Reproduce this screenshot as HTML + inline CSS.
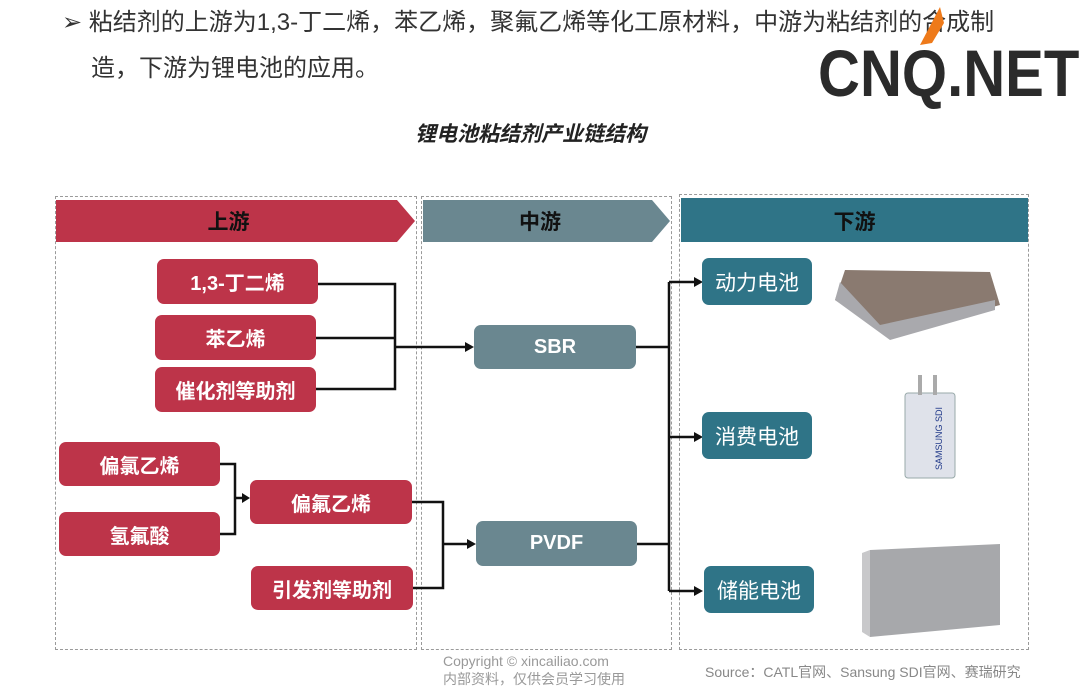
<!DOCTYPE html>
<html><head><meta charset="utf-8"><style>
*{margin:0;padding:0;box-sizing:border-box}
body{width:1080px;height:693px;background:#fff;position:relative;overflow:hidden;font-family:"Liberation Sans","Noto Sans CJK SC",sans-serif}
.a{position:absolute}
.b{position:absolute;color:#fff;font-weight:bold;font-size:20px;display:flex;align-items:center;justify-content:center;border-radius:7px}
.r{background:#bd3449}
.g{background:#6a8790}
.t{background:#2f7487;font-weight:normal;font-size:21px}
.dash{position:absolute;border:1.5px dashed #9a9a9a}
</style></head><body>
<div class="a" style="left:62px;top:0px;font-size:24px;color:#333;line-height:46px;white-space:nowrap">➢&nbsp;粘结剂的上游为1,3-丁二烯，苯乙烯，聚氟乙烯等化工原材料，中游为粘结剂的合成制<br><span style="padding-left:29px">造，下游为锂电池的应用。</span></div>
<div class="a" style="left:818px;top:42px;font-size:66px;line-height:62px;font-weight:bold;color:#2b2b2b;font-family:'Liberation Sans',sans-serif;transform:scaleX(0.88);transform-origin:left top;white-space:nowrap">CNQ.NET</div>
<svg class="a" style="left:900px;top:5px" width="60" height="45"><polygon points="40,2 20,40 32,38 44,18" fill="#ee7a1a"/></svg>
<div class="a" style="left:415px;top:118px;font-size:21px;font-weight:bold;font-style:italic;color:#222">锂电池粘结剂产业链结构</div>

<div class="dash" style="left:55px;top:196px;width:362px;height:454px"></div>
<div class="dash" style="left:421px;top:196px;width:251px;height:454px"></div>
<div class="dash" style="left:679px;top:194px;width:350px;height:456px"></div>

<svg class="a" style="left:0;top:0" width="1080" height="693">
<polygon points="56,200 397,200 415,221 397,242 56,242" fill="#bd3449"/>
<polygon points="423,200 652,200 670,221 652,242 423,242" fill="#6a8790"/>
<rect x="681" y="198" width="347" height="44" fill="#2f7487"/>
<g stroke="#111" stroke-width="2.5" fill="none">
<polyline points="318,284 395,284 395,389 316,389"/>
<line x1="316" y1="338" x2="395" y2="338"/>
<line x1="395" y1="347" x2="466" y2="347"/>
<polyline points="220,464 235,464 235,534 220,534"/>
<line x1="235" y1="498" x2="244" y2="498"/>
<polyline points="412,502 443,502 443,588 413,588"/>
<line x1="443" y1="544" x2="468" y2="544"/>
<polyline points="636,347 669,347"/>
<polyline points="637,544 669,544"/>
<line x1="669" y1="282" x2="669" y2="591"/>
<line x1="669" y1="282" x2="695" y2="282"/>
<line x1="669" y1="437" x2="695" y2="437"/>
<line x1="669" y1="591" x2="695" y2="591"/>
</g>
<g fill="#111">
<polygon points="474,347 465,342 465,352"/>
<polygon points="250,498 242,493 242,503"/>
<polygon points="476,544 467,539 467,549"/>
<polygon points="703,282 694,277 694,287"/>
<polygon points="703,437 694,432 694,442"/>
<polygon points="703,591 694,586 694,596"/>
</g>
<polygon points="845,270 990,272 1000,305 890,335 835,300" fill="#8a7a70"/>
<polygon points="840,282 880,325 995,300 995,310 890,340 835,300" fill="#a9a9ad"/>
<rect x="905" y="393" width="50" height="85" fill="#dfe2ea" stroke="#9aa" rx="3"/>
<rect x="918" y="375" width="4" height="20" fill="#aaa"/><rect x="933" y="375" width="4" height="20" fill="#aaa"/>
<text x="0" y="0" transform="translate(942,470) rotate(-90)" font-size="9" fill="#223a8a" font-family="Liberation Sans">SAMSUNG SDI</text>
<polygon points="870,550 1000,544 1000,625 870,637" fill="#a7a8ab"/>
<polygon points="862,553 870,550 870,637 862,632" fill="#c8c8ca"/>
</svg>
<div class="a" style="left:420px;top:206px;width:240px;text-align:center;font-size:21px;font-weight:bold;color:#111">中游</div>
<div class="a" style="left:56px;top:206px;width:345px;text-align:center;font-size:21px;font-weight:bold;color:#111">上游</div>
<div class="a" style="left:681px;top:206px;width:347px;text-align:center;font-size:21px;font-weight:bold;color:#111">下游</div>

<div class="b r" style="left:157px;top:259px;width:161px;height:45px">1,3-丁二烯</div>
<div class="b r" style="left:155px;top:315px;width:161px;height:45px">苯乙烯</div>
<div class="b r" style="left:155px;top:367px;width:161px;height:45px">催化剂等助剂</div>
<div class="b r" style="left:59px;top:442px;width:161px;height:44px">偏氯乙烯</div>
<div class="b r" style="left:59px;top:512px;width:161px;height:44px">氢氟酸</div>
<div class="b r" style="left:250px;top:480px;width:162px;height:44px">偏氟乙烯</div>
<div class="b r" style="left:251px;top:566px;width:162px;height:44px">引发剂等助剂</div>
<div class="b g" style="left:474px;top:325px;width:162px;height:44px">SBR</div>
<div class="b g" style="left:476px;top:521px;width:161px;height:45px">PVDF</div>
<div class="b t" style="left:702px;top:258px;width:110px;height:47px">动力电池</div>
<div class="b t" style="left:702px;top:412px;width:110px;height:47px">消费电池</div>
<div class="b t" style="left:704px;top:566px;width:110px;height:47px">储能电池</div>

<div class="a" style="left:443px;top:652px;font-size:14px;color:#999;line-height:18px">Copyright © xincailiao.com<br>内部资料，仅供会员学习使用</div>
<div class="a" style="left:705px;top:662px;font-size:14px;color:#888">Source：CATL官网、Sansung SDI官网、赛瑞研究</div>
</body></html>
